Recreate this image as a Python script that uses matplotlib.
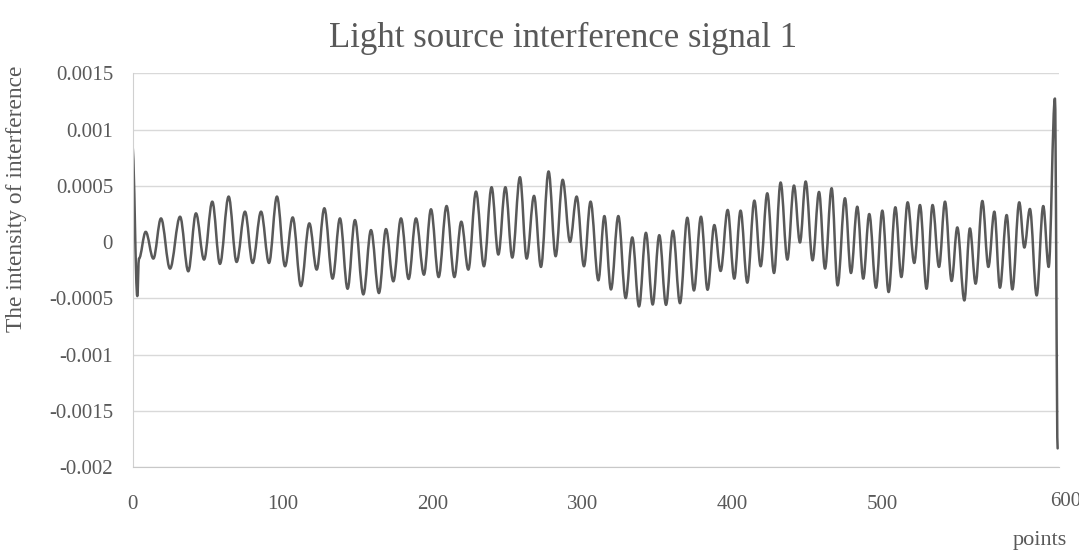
import matplotlib
matplotlib.use("Agg")
import matplotlib.pyplot as plt
import matplotlib.transforms as mtransforms
from matplotlib.path import Path
from matplotlib.patches import PathPatch

# extrema of the signal (point index, intensity)
points = [0, 3.2, 4.3, 8.8, 13.9, 19.0, 25.0, 31.7, 37.2, 42.3, 47.7, 53.2, 58.3, 64.1,
          69.4, 75.0, 80.1, 85.7, 91.0, 96.3, 101.7, 106.8, 112.3, 117.9, 122.8, 127.9,
          133.4, 138.3, 143.4, 148.3,
          153.9, 159.0, 164.3, 169.0, 173.9, 179.0, 184.1, 189.0, 194.3, 199.0, 204.1,
          209.4, 214.6, 219.2, 223.9, 229.0, 234.3, 239.4, 243.9, 248.6, 253.2, 258.3,
          262.8, 267.7, 272.3, 277.4, 282.1, 286.8, 291.7, 296.1, 301.0, 305.4,
          310.6, 314.6, 319.0, 323.9, 328.8, 333.2, 337.7, 342.3, 346.8, 351.2, 355.7,
          360.3, 365.0, 369.9, 374.3, 379.0, 383.4, 387.9, 392.1, 396.8, 401.2, 405.4,
          409.9, 414.6, 418.8, 423.2, 427.7, 432.1, 436.6, 441.0, 445.0, 448.8, 453.4,
          457.7, 461.7, 466.1,
          470.1, 475.0, 479.0, 483.2, 487.2, 491.2, 495.7, 499.9, 504.1, 508.6, 512.6,
          516.8, 521.2, 525.0, 529.4, 533.4, 537.7, 541.7, 546.1, 549.9, 554.6, 558.3,
          562.1, 566.6, 570.6, 574.6, 578.3, 582.8, 586.6, 591.2, 594.6, 598.3, 602.8,
          607.2, 610.8, 615.0, 616.8]

intensity = [0.00084, -0.000479, -0.000146, 0.000092, -0.000146, 0.000211, -0.000235,
             0.000226, -0.000259, 0.000256, -0.000155, 0.000360, -0.000193, 0.000405,
             -0.000176, 0.000271, -0.000185, 0.000271, -0.000185, 0.000405, -0.000214,
             0.000220, -0.000390, 0.000167, -0.000244, 0.000301, -0.000324, 0.000211,
             -0.000414, 0.000196,
             -0.000464, 0.000107, -0.000452, 0.000116, -0.000348, 0.000211, -0.000327,
             0.000211, -0.000289, 0.000292, -0.000310, 0.000321, -0.000310, 0.000182,
             -0.000244, 0.000449, -0.000214, 0.000488, -0.000110, 0.000488, -0.000137,
             0.000577, -0.000146, 0.000411, -0.000220, 0.000628, -0.000125, 0.000554,
             0.000003, 0.000405, -0.000214, 0.000360,
             -0.000339, 0.000232, -0.000420, 0.000232, -0.000497, 0.000042, -0.000571,
             0.000083, -0.000554, 0.000062, -0.000557, 0.000101, -0.000542, 0.000217,
             -0.000429, 0.000226, -0.000423, 0.000152, -0.000256, 0.000286, -0.000324,
             0.000280, -0.000360, 0.000369, -0.000214, 0.000434, -0.000274, 0.000530,
             -0.000155, 0.000503, -0.000003, 0.000539, -0.000161, 0.000446, -0.000235,
             0.000479,
             -0.000384, 0.000390, -0.000274, 0.000315, -0.000324, 0.000250, -0.000405,
             0.000280, -0.000443, 0.000310, -0.000310, 0.000354, -0.000185, 0.000330,
             -0.000414, 0.000330, -0.000220, 0.000360, -0.000345, 0.000131, -0.000518,
             0.000122, -0.000369, 0.000366, -0.000220, 0.000271, -0.000405, 0.000241,
             -0.000420, 0.000354, -0.000048, 0.000295, -0.000473, 0.000321, -0.000220,
             0.001276, -0.001832]

y_ticks = [0.0015, 0.001, 0.0005, 0, -0.0005, -0.001, -0.0015, -0.002]
y_labels = ["0.0015", "0.001", "0.0005", "0", "-0.0005", "-0.001", "-0.0015", "-0.002"]
x_ticks = [0, 100, 200, 300, 400, 500]
x_labels = ["0", "100", "200", "300", "400", "500"]

text_color = "#595959"
plt.rcParams["font.family"] = ["Liberation Serif", "DejaVu Serif"]

W, H = 1079, 557
fig = plt.figure(figsize=(W / 100, H / 100), dpi=100)
ax = fig.add_axes([132.5 / W, 1 - 467.3 / H, (1059 - 132.5) / W, (467.3 - 73.3) / H])

# smoothed line (like Excel "smooth line"): cubic curves with flat tangents at each extremum
verts = [(points[0], intensity[0])]
codes = [Path.MOVETO]
for i in range(1, len(points)):
    x0, y0 = points[i - 1], intensity[i - 1]
    x1, y1 = points[i], intensity[i]
    d = 0.36 * (x1 - x0)
    verts += [(x0 + d, y0), (x1 - d, y1), (x1, y1)]
    codes += [Path.CURVE4] * 3
ax.add_patch(PathPatch(Path(verts, codes), fill=False, edgecolor="#595959",
                       linewidth=1.8, joinstyle="round", capstyle="round"))

ax.set_xlim(0, 617.7)
ax.set_ylim(-0.002, 0.0015)
ax.set_yticks(y_ticks)
ax.set_yticklabels(y_labels)
ax.set_xticks(x_ticks)
ax.set_xticklabels(x_labels)
ax.tick_params(axis="both", length=0, labelsize=15, colors=text_color)
ax.tick_params(axis="y", pad=14)
ax.tick_params(axis="x", pad=20)

ax.grid(axis="y", color="#d9d9d9", linewidth=1)
ax.set_axisbelow(True)
for side in ["top", "right"]:
    ax.spines[side].set_visible(False)
ax.spines["left"].set_color("#d0d0d0")
ax.spines["bottom"].set_color("#c8c8c8")

# the last axis label sits right of the plot area in the reference
trans = mtransforms.blended_transform_factory(ax.transData, fig.transFigure)
ax.text(622, 1 - 502 / H, "600", transform=trans, ha="center", va="center",
        fontsize=15, color=text_color, clip_on=False)

fig.text(563 / W, 1 - 38 / H, "Light source interference signal 1", ha="center",
         va="center", fontsize=25, color=text_color)
fig.text(17 / W, 1 - 199 / H, "The intensity of interference", rotation=90,
         ha="center", va="center", fontsize=16.8, color=text_color)
fig.text(1040 / W, 1 - 541 / H, "points", ha="center", va="center", fontsize=16,
         color=text_color)

fig.savefig("out.png", dpi=100)
